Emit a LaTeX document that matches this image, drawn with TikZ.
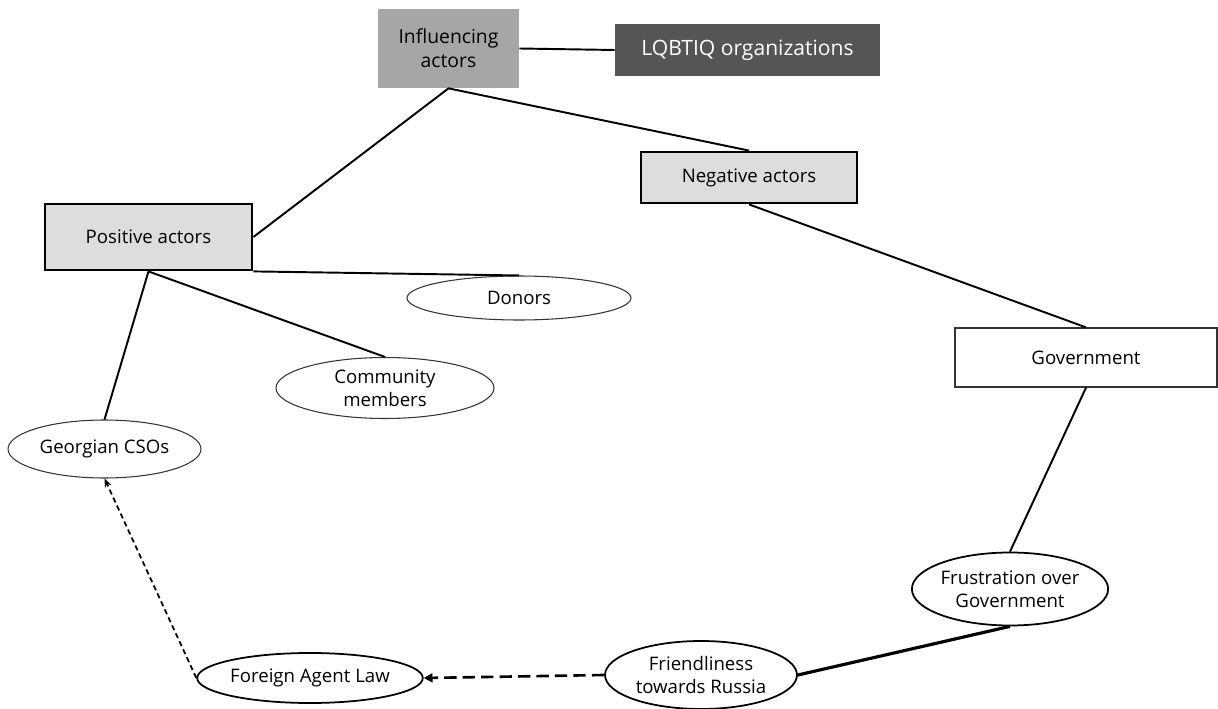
\documentclass[tikz,border=0pt]{standalone}
\usepackage{fontspec}
\setmainfont{Open Sans}
\usetikzlibrary{shapes.geometric,arrows.meta}
\definecolor{midgray}{HTML}{A6A6A6}
\definecolor{darkbox}{HTML}{555555}
\definecolor{lightbox}{HTML}{DDDDDD}
\begin{document}
\begin{tikzpicture}[
  txt/.style={align=center,font=\fontsize{10.6}{13}\selectfont,inner sep=0pt},
  actorbox/.style={txt,rectangle,draw=black,line width=1.6pt,fill=lightbox},
  oval/.style={txt,ellipse,draw=black!80,line width=0.6pt},
  boldoval/.style={txt,ellipse,draw=black,line width=1pt},
  link/.style={line width=1.1pt}
]
  \useasboundingbox (0,0) rectangle (24.36,-14.18);

  % boxes
  \node[txt,fill=midgray,font=\fontsize{11}{13.5}\selectfont,minimum width=2.82cm,minimum height=1.58cm] (infl) at (8.97,-0.97) {Influencing\\actors};
  \node[txt,fill=darkbox,text=white,font=\fontsize{12}{14}\selectfont,minimum width=5.3cm,minimum height=1.04cm] (lqbt) at (14.95,-1.0) {LQBTIQ organizations};
  \node[actorbox,minimum width=4.32cm,minimum height=1.02cm] (neg) at (14.98,-3.55) {Negative actors};
  \node[actorbox,minimum width=4.14cm,minimum height=1.32cm] (pos) at (2.97,-4.74) {Positive actors};
  \node[txt,draw=black!80,line width=0.7pt,minimum width=5.24cm,minimum height=1.18cm] (gov) at (21.72,-7.15) {Government};

  % ovals
  \node[oval,minimum width=4.48cm,minimum height=0.88cm] (donors) at (10.38,-5.96) {Donors};
  \node[oval,minimum width=4.36cm,minimum height=1.22cm] (comm) at (7.7,-7.76) {Community\\members};
  \node[oval,minimum width=3.86cm,minimum height=1.16cm] (cso) at (2.09,-8.98) {Georgian CSOs};
  \node[boldoval,minimum width=3.6cm,minimum height=1.46cm] (frus) at (20.2,-11.78) {Frustration over\\Government};
  \node[boldoval,minimum width=3.84cm,minimum height=1.36cm] (friend) at (14.02,-13.5) {Friendliness\\towards Russia};
  \node[boldoval,minimum width=3.68cm,minimum height=1.0cm] (fal) at (6.2,-13.56) {Foreign Agent Law};

  % connectors
  \draw[link] (infl.east) -- (lqbt.west);
  \draw[link] (pos.east) -- (infl.south) -- (neg.north);
  \draw[link] (neg.south) -- (gov.north);
  \draw[link] (gov.south) -- (frus.north);
  \draw[line width=1.8pt] (frus.south) -- (friend.east);
  \draw[link] (pos.south east) -- (donors.north);
  \draw[link] (pos.south) -- (comm.north);
  \draw[link] (pos.south) -- (cso.north);
  \draw[line width=1.5pt,dash pattern=on 7pt off 3.5pt,-{Triangle[length=5pt,width=5pt]}] (friend.west) -- (fal.east);
  \draw[line width=1pt,dash pattern=on 3pt off 2pt,-{Stealth[length=5pt,width=4pt]}] (fal.west) -- (cso.south);
\end{tikzpicture}
\end{document}
